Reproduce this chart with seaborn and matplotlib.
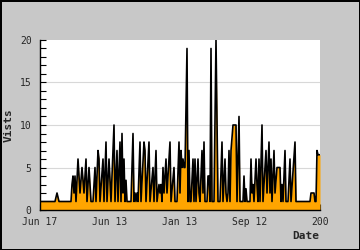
import matplotlib
matplotlib.use("Agg")
import matplotlib.pyplot as plt
import seaborn as sns
import pandas as pd
from matplotlib.ticker import MultipleLocator

# ---- data (day index, visits) ----
days = [0, 15, 17, 19, 31, 32, 33, 34, 35, 36, 38, 40, 42, 44, 46, 47, 49, 51, 53, 55,
        56, 58, 59, 60, 63, 64, 66, 67, 69, 71, 74, 75, 77, 78, 80, 81, 82, 83, 84, 85,
        86, 87, 91, 93, 94, 95, 96, 97, 98, 100, 101, 104, 105, 106, 109, 110, 113, 114, 116, 117,
        119, 120, 121, 122, 123, 124, 126, 127, 130, 131, 134, 135, 137, 139, 140, 141, 142, 143, 144, 145,
        147, 148, 149, 150, 151, 153, 154, 155, 156, 158, 159, 160, 162, 163, 164, 165, 167, 168, 169, 170,
        171, 172, 174, 176, 177, 178, 180, 182, 183, 185, 186, 187, 188, 189, 190, 191, 193, 196, 197, 199,
        200, 203, 204, 205, 206, 207, 210, 211, 212, 213, 214, 216, 217, 218, 219, 220, 222, 223, 226, 227,
        229, 230, 231, 232, 234, 235, 237, 240, 241, 242, 243, 245, 246, 248, 250, 251, 255, 256, 270, 271,
        274, 275, 276, 277, 278, 280]
visits = [1, 1, 2, 1, 1, 3, 4, 2, 4, 1, 6, 2, 5, 2, 6, 1, 5, 1, 1, 5,
          1, 7, 6, 1, 6, 1, 8, 1, 6, 1, 10, 1, 7, 1, 8, 1, 9, 2, 6, 1,
          3.5, 1, 1, 9, 1, 2, 1, 2, 1, 8, 1, 8, 7, 1, 8, 1, 5, 1, 7, 1,
          3, 2, 3, 1, 5, 2, 6, 2, 8, 1, 5, 1, 1, 8, 2, 7, 5, 6, 5, 5,
          19, 1, 7, 1, 1, 6, 1, 6, 1, 6, 2, 1, 7, 2, 8, 1, 1, 4, 4, 1,
          19, 1, 1, 20, 11, 1, 1, 8, 1, 6, 2, 1, 2, 7, 1, 7, 10, 10, 1, 11,
          1, 1, 4, 1, 2.5, 1, 1, 6, 2, 3, 1, 6, 3, 1, 6, 1, 10, 1, 7, 2,
          8, 2, 6, 1, 7, 2, 5, 5, 1, 3, 1, 7, 1, 1, 6, 1, 8, 1, 1, 2,
          2, 1, 1, 7, 6.5, 6.5]

tick_pos = [0, 70, 140, 210, 280]
tick_labels = ["Jun 17", "Jun 13", "Jan 13", "Sep 12", "200"]
y_ticks = [0, 5, 10, 15, 20]

df = pd.DataFrame({"day": days, "visits": visits})

sns.set_style("white")
plt.rcParams["font.family"] = ["DejaVu Sans Mono", "DejaVu Sans"]

fig = plt.figure(figsize=(3.6, 2.5), dpi=100, facecolor="#c8c8c8")
fig.patch.set_edgecolor("black")
fig.patch.set_linewidth(1.0)
ax = fig.add_axes([40 / 360, 40 / 250, 280 / 360, 170 / 250])
ax.set_facecolor("white")

for yv in [5, 10, 15]:
    ax.axhline(yv, color="#d8d8d8", lw=0.8, zorder=0)

ax.fill_between(df["day"], 0, df["visits"], color="#ffa500", lw=0, zorder=1)
sns.lineplot(data=df, x="day", y="visits", color="black", lw=1.2,
             estimator=None, ax=ax, zorder=2)

ax.set_xlim(0, 280)
ax.set_ylim(0, 20)
ax.set_xticks(tick_pos)
ax.set_xticklabels(tick_labels, fontsize=7)
ax.set_yticks(y_ticks)
ax.set_yticklabels([str(v) for v in y_ticks], fontsize=7)
ax.yaxis.set_minor_locator(MultipleLocator(1))
ax.tick_params(axis="y", which="both", direction="in", length=4, width=0.8,
               color="black", pad=6, left=True)
ax.tick_params(axis="x", which="major", direction="in", length=4, width=0.8,
               color="black", pad=5, bottom=True)

for s in ["top", "right"]:
    ax.spines[s].set_visible(False)
for s in ["left", "bottom"]:
    ax.spines[s].set_color("black")
    ax.spines[s].set_linewidth(1.0)
    ax.spines[s].set_zorder(3)

ax.set_xlabel("")
ax.set_ylabel("")
fig.text(9 / 360, 1 - 125 / 250, "Vists", rotation=90, fontsize=8,
         fontweight="bold", ha="center", va="center")
fig.text(319 / 360, 1 - 236 / 250, "Date", fontsize=8, fontweight="bold",
         ha="right", va="center")

fig.savefig("out.png", dpi=100, facecolor=fig.get_facecolor(),
            edgecolor=fig.get_edgecolor())
